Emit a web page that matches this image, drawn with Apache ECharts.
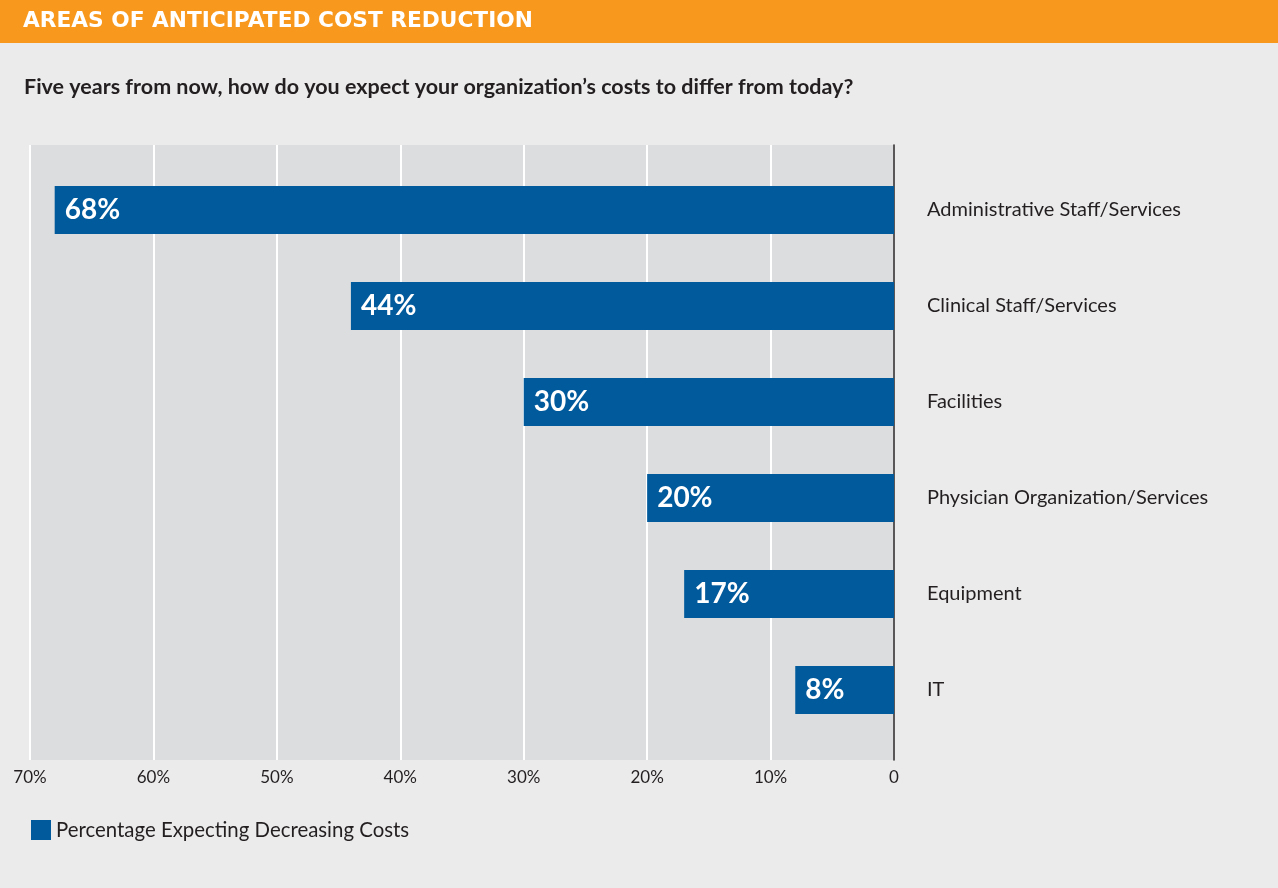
<!DOCTYPE html>
<html>
<head>
<meta charset="utf-8">
<script src="https://cdn.jsdelivr.net/npm/echarts@6/dist/echarts.min.js"></script>
<style>
  html, body { margin: 0; padding: 0; background: #ebebeb; }
  #chart { width: 1278px; height: 888px; }
</style>
</head>
<body>
<div id="chart"></div>
<script>
// Survey results: share of respondents expecting costs to fall, by area
const categories = [
  'Administrative Staff/Services',
  'Clinical Staff/Services',
  'Facilities',
  'Physician Organization/Services',
  'Equipment',
  'IT'
];
const decreasingCosts = [68, 44, 30, 20, 17, 8];
const tickValues = [0, 10, 20, 30, 40, 50, 60, 70];
const seriesName = 'Percentage Expecting Decreasing Costs';

const FONT = 'Lato, "Noto Sans", sans-serif';
const HEAD_FONT = '"DejaVu Sans", Lato, sans-serif';
const INK = '#231f20';
const BLUE = '#005a9c';

const chart = echarts.init(document.getElementById('chart'), null, { renderer: 'canvas' });

chart.setOption({
  backgroundColor: '#ebebeb',
  animation: false,
  textStyle: { fontFamily: FONT },
  graphic: [
    {
      type: 'rect',
      left: 0, top: 0,
      shape: { width: 1278, height: 43 },
      style: { fill: '#f8991d' },
      z: -1
    }
  ],
  title: [
    {
      text: 'AREAS OF ANTICIPATED COST REDUCTION',
      left: 23, top: 10,
      padding: 0,
      textStyle: { color: '#ffffff', fontFamily: HEAD_FONT, fontWeight: 'bold', fontSize: 21.7 }
    },
    {
      text: 'Five years from now, how do you expect your organization\u2019s costs to differ from today?',
      left: 24, top: 76,
      padding: 0,
      textStyle: { color: INK, fontFamily: FONT, fontWeight: 'bold', fontSize: 21.5 }
    }
  ],
  legend: {
    left: 31, top: 820,
    padding: 0,
    itemWidth: 20, itemHeight: 20,
    icon: 'rect',
    data: [seriesName],
    textStyle: { color: INK, fontSize: 20.4, fontFamily: FONT }
  },
  grid: [
    { left: 30, right: 384, top: 145, bottom: 128, show: true, backgroundColor: '#dcdddf', borderWidth: 0 },
    { left: 30, right: 384, top: 162, height: 576 }
  ],
  xAxis: [
    {
      gridIndex: 0, type: 'value', inverse: true,
      min: 0, max: 70, interval: 10,
      axisLine: { show: false }, axisTick: { show: false },
      splitLine: { show: true, lineStyle: { color: '#ffffff', width: 2 } },
      axisLabel: {
        color: INK, fontSize: 17, fontFamily: FONT, margin: 9,
        formatter: v => (tickValues.includes(v) ? (v === 0 ? '0' : v + '%') : '')
      }
    },
    {
      gridIndex: 1, type: 'value', inverse: true,
      min: 0, max: 70, show: false
    }
  ],
  yAxis: [
    {
      gridIndex: 0, type: 'value', position: 'right',
      min: 0, max: 1,
      axisLine: { show: true, lineStyle: { color: INK, width: 1.5 } },
      axisTick: { show: false }, axisLabel: { show: false }, splitLine: { show: false }
    },
    {
      gridIndex: 1, type: 'category', position: 'right', inverse: true,
      data: categories,
      axisLine: { show: false }, axisTick: { show: false }, splitLine: { show: false },
      axisLabel: { color: INK, fontSize: 20, fontFamily: FONT, margin: 33, align: 'left' }
    }
  ],
  series: [
    {
      name: seriesName,
      type: 'bar',
      xAxisIndex: 1, yAxisIndex: 1,
      data: decreasingCosts,
      barWidth: 48,
      itemStyle: { color: BLUE },
      label: {
        show: true,
        position: 'insideLeft',
        distance: 10,
        color: '#ffffff',
        fontFamily: FONT,
        fontWeight: 'bold',
        fontSize: 28,
        formatter: p => p.value + '%'
      }
    }
  ]
});
</script>
</body>
</html>
